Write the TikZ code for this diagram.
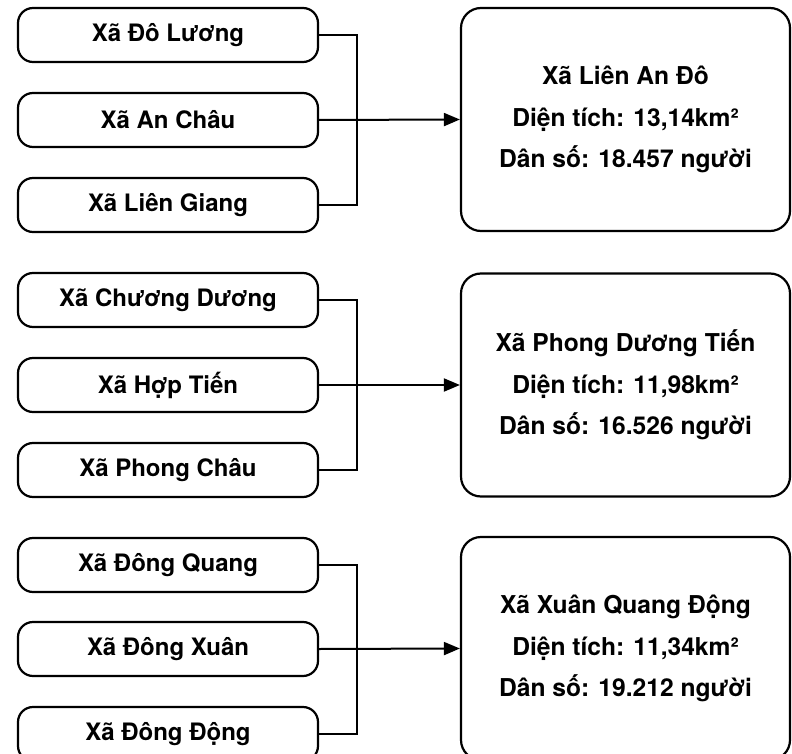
\documentclass[tikz,border=0pt]{standalone}
\usepackage{fontspec}
\setmainfont{TeX Gyre Heros}
\usetikzlibrary{arrows.meta}
\begin{document}
\begin{tikzpicture}[x=0.5pt,y=-0.5pt,
    xa/.style={draw,line width=1.1pt,rounded corners=7.5pt,minimum width=150pt,minimum height=27pt,inner sep=0pt,font=\bfseries\fontsize{12}{14}\selectfont},
    xamoi/.style={draw,line width=1.1pt,rounded corners=10pt,minimum width=164.5pt,minimum height=111.5pt,inner sep=0pt,align=center,font=\bfseries\fontsize{12.3}{20.75}\selectfont},
    noi/.style={line width=1pt},
    muiten/.style={noi,-{Triangle[length=8pt,width=6.5pt]}}]
    \useasboundingbox (0,0) rectangle (792,754);
    \coordinate (truc) at (357,0);
    %% Lien An Do
    \node[xa] (a1) at (168,35) {Xã Đô Lương};
    \node[xa] (a2) at (168,120) {Xã An Châu};
    \node[xa] (a3) at (168,205) {Xã Liên Giang};
    \node[xamoi] (A) at (625.5,119.5) {Xã Liên An Đô\\Diện tích: 13,14km²\\Dân số: 18.457 người};
    \draw[noi] (a1.east) -| (a3.east -| truc) -- (a3.east);
    \draw[muiten] (a2.east) -- (A.west);
    %% Phong Duong Tien
    \node[xa] (b1) at (168,300) {Xã Chương Dương};
    \node[xa] (b2) at (168,385) {Xã Hợp Tiến};
    \node[xa] (b3) at (168,470) {Xã Phong Châu};
    \node[xamoi] (B) at (625.5,385) {Xã Phong Dương Tiến\\Diện tích: 11,98km²\\Dân số: 16.526 người};
    \draw[noi] (b1.east) -| (b3.east -| truc) -- (b3.east);
    \draw[muiten] (b2.east) -- (B.west);
    %% Xuan Quang Dong
    \node[xa] (c1) at (168,565) {Xã Đông Quang};
    \node[xa] (c2) at (168,649) {Xã Đông Xuân};
    \node[xa] (c3) at (168,734) {Xã Đông Động};
    \node[xamoi] (C) at (625.5,648.5) {Xã Xuân Quang Động\\Diện tích: 11,34km²\\Dân số: 19.212 người};
    \draw[noi] (c1.east) -| (c3.east -| truc) -- (c3.east);
    \draw[muiten] (c2.east) -- (C.west);
\end{tikzpicture}
\end{document}
